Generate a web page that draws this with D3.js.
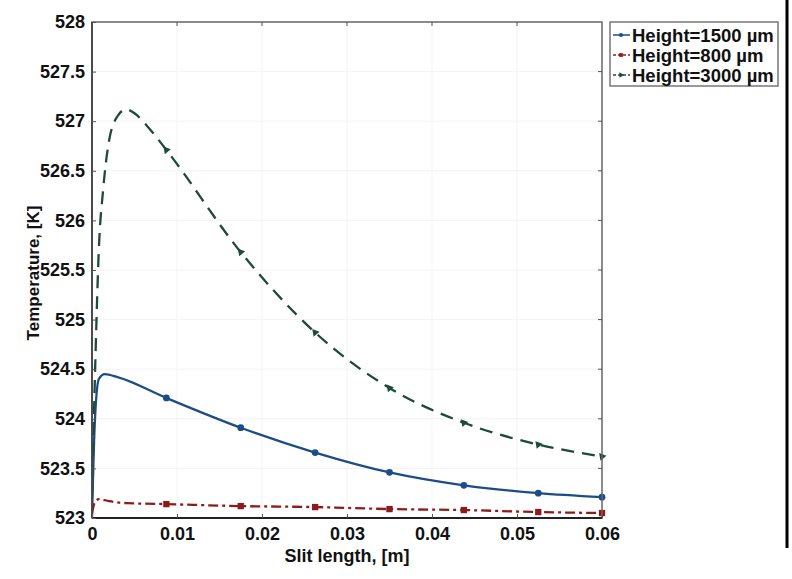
<!DOCTYPE html>
<html>
<head>
<meta charset="utf-8">
<script src="https://cdn.jsdelivr.net/npm/d3@7"></script>
<style>
  body { margin: 0; background: #fff; }
  svg { display: block; font-family: Arial, "Liberation Sans", sans-serif; }
</style>
</head>
<body>
<svg width="792" height="579"></svg>
<script>
// values
const xTicks = [0, 0.01, 0.02, 0.03, 0.04, 0.05, 0.06]
const yTicks = [523, 523.5, 524, 524.5, 525, 525.5, 526, 526.5, 527, 527.5, 528]
const markerX = [0.00875, 0.0175, 0.02625, 0.035, 0.04375, 0.0525, 0.06]

const blueX = [0, 0.0003, 0.0008, 0.0015, 0.003, 0.00875, 0.0175, 0.02625, 0.035, 0.04375, 0.0525, 0.06]
const blueY = [523.0, 523.9, 524.4, 524.45, 524.42, 524.21, 523.91, 523.66, 523.46, 523.33, 523.25, 523.21]

const redX = [0, 0.0003, 0.0008, 0.002, 0.004, 0.00875, 0.0175, 0.02625, 0.035, 0.04375, 0.0525, 0.06]
const redY = [523.05, 523.15, 523.19, 523.17, 523.15, 523.14, 523.12, 523.11, 523.09, 523.08, 523.06, 523.05]

const greenX = [0, 0.0004, 0.0008, 0.0013, 0.002, 0.003, 0.004, 0.005, 0.0065, 0.00875, 0.0175, 0.02625, 0.035, 0.04375, 0.0525, 0.06]
const greenY = [523.2, 524.6, 525.7, 526.3, 526.8, 527.05, 527.12, 527.08, 526.95, 526.71, 525.68, 524.87, 524.31, 523.96, 523.74, 523.62]

const seriesNames = ["Height=1500 \u00b5m", "Height=800 \u00b5m", "Height=3000 \u00b5m"]

const PLOT_LEFT = 92, PLOT_TOP = 22, PLOT_RIGHT = 602, PLOT_BOTTOM = 518

const svg = d3.select("svg")
const x = d3.scaleLinear().domain([0, 0.06]).range([PLOT_LEFT, PLOT_RIGHT])
const y = d3.scaleLinear().domain([523, 528]).range([PLOT_BOTTOM, PLOT_TOP])

// faint grid
svg.append("g").selectAll("line").data(xTicks.slice(1, -1)).join("line")
    .attr("x1", d => x(d)).attr("x2", d => x(d))
    .attr("y1", PLOT_TOP).attr("y2", PLOT_BOTTOM)
    .attr("stroke", "#f3f3f3").attr("stroke-width", 1)
svg.append("g").selectAll("line").data(yTicks.slice(1, -1)).join("line")
    .attr("y1", d => y(d)).attr("y2", d => y(d))
    .attr("x1", PLOT_LEFT).attr("x2", PLOT_RIGHT)
    .attr("stroke", "#f3f3f3").attr("stroke-width", 1)

const series = [
    { xs: blueX, ys: blueY, color: "#1c4d86", dash: null, marker: "circle" },
    { xs: redX, ys: redY, color: "#8e1b1b", dash: "10,4,3,4", marker: "square" },
    { xs: greenX, ys: greenY, color: "#1d4a3c", dash: "13,8", marker: "triangle" }
]

const line = d3.line()
    .x(d => x(d[0]))
    .y(d => y(d[1]))
    .curve(d3.curveMonotoneX)

function symbolType(kind) {
    if (kind === "circle") return d3.symbolCircle
    if (kind === "square") return d3.symbolSquare
    return d3.symbolTriangle
}
const markerSize = { circle: 36, square: 40, triangle: 26 }

const plot = svg.append("g")
plot.append("clipPath").attr("id", "clip")
    .append("rect").attr("x", PLOT_LEFT).attr("y", PLOT_TOP - 2)
    .attr("width", PLOT_RIGHT - PLOT_LEFT + 2).attr("height", PLOT_BOTTOM - PLOT_TOP + 2)

series.forEach(s => {
    const pts = s.xs.map((v, i) => [v, s.ys[i]])
    plot.append("path")
        .datum(pts)
        .attr("d", line)
        .attr("fill", "none")
        .attr("stroke", s.color)
        .attr("stroke-width", 2.3)
        .attr("stroke-dasharray", s.dash)
        .attr("clip-path", "url(#clip)")
    const marks = pts.filter(p => markerX.includes(p[0]))
    plot.append("g").selectAll("path").data(marks).join("path")
        .attr("d", d3.symbol().type(symbolType(s.marker)).size(markerSize[s.marker]))
        .attr("transform", d => "translate(" + x(d[0]) + "," + y(d[1]) + ")" + (s.marker === "triangle" ? " rotate(200)" : ""))
        .attr("fill", s.color)
})

// frame
svg.append("rect")
    .attr("x", PLOT_LEFT).attr("y", PLOT_TOP)
    .attr("width", PLOT_RIGHT - PLOT_LEFT).attr("height", PLOT_BOTTOM - PLOT_TOP)
    .attr("fill", "none").attr("stroke", "#666").attr("stroke-width", 1.5)
svg.append("line")
    .attr("x1", PLOT_LEFT).attr("x2", PLOT_RIGHT).attr("y1", PLOT_BOTTOM).attr("y2", PLOT_BOTTOM)
    .attr("stroke", "#222").attr("stroke-width", 2)
svg.append("line")
    .attr("x1", PLOT_LEFT).attr("x2", PLOT_LEFT).attr("y1", PLOT_TOP).attr("y2", PLOT_BOTTOM)
    .attr("stroke", "#444").attr("stroke-width", 1.8)

// axes
const xAxis = d3.axisBottom(x).tickValues(xTicks).tickSize(-4).tickPadding(9)
    .tickFormat(d => d === 0 ? "0" : d3.format(".2f")(d))
const yAxis = d3.axisLeft(y).tickValues(yTicks).tickSize(-4).tickPadding(7)
    .tickFormat(d => d3.format("")(d))

const gx = svg.append("g").attr("transform", "translate(0," + PLOT_BOTTOM + ")").call(xAxis)
const gy = svg.append("g").attr("transform", "translate(" + PLOT_LEFT + ",0)").call(yAxis)
;[gx, gy].forEach(g => {
    g.select(".domain").remove()
    g.selectAll(".tick line").attr("stroke", "#555")
    g.selectAll(".tick text")
        .attr("fill", "#111")
        .style("font-size", "18px")
        .style("font-weight", "bold")
        .style("font-family", "Arial, 'Liberation Sans', sans-serif")
})

// top/right inner ticks
svg.append("g").selectAll("line").data(xTicks.slice(1, -1)).join("line")
    .attr("x1", d => x(d)).attr("x2", d => x(d)).attr("y1", PLOT_TOP).attr("y2", PLOT_TOP + 4)
    .attr("stroke", "#555")
svg.append("g").selectAll("line").data(yTicks.slice(1, -1)).join("line")
    .attr("y1", d => y(d)).attr("y2", d => y(d)).attr("x1", PLOT_RIGHT).attr("x2", PLOT_RIGHT - 4)
    .attr("stroke", "#555")

// axis titles
svg.append("text")
    .attr("x", (PLOT_LEFT + PLOT_RIGHT) / 2).attr("y", 562)
    .attr("text-anchor", "middle")
    .style("font-size", "18px").style("font-weight", "bold").attr("fill", "#111")
    .text("Slit length, [m]")
svg.append("text")
    .attr("transform", "translate(39," + ((PLOT_TOP + PLOT_BOTTOM) / 2 + 3) + ") rotate(-90)")
    .attr("text-anchor", "middle")
    .style("font-size", "17px").style("font-weight", "bold").attr("fill", "#111")
    .text("Temperature, [K]")

// legend
const legend = svg.append("g")
legend.append("rect")
    .attr("x", 610).attr("y", 22).attr("width", 168).attr("height", 64)
    .attr("fill", "#fff").attr("stroke", "#777").attr("stroke-width", 1.5)
series.forEach((s, i) => {
    const ly = 35 + i * 20
    legend.append("line")
        .attr("x1", 613).attr("x2", 630).attr("y1", ly).attr("y2", ly)
        .attr("stroke", s.color).attr("stroke-width", 1.5)
        .attr("stroke-dasharray", s.dash ? "3,2" : null)
    legend.append("path")
        .attr("d", d3.symbol().type(symbolType(s.marker)).size(14))
        .attr("transform", "translate(621," + ly + ")" + (s.marker === "triangle" ? " rotate(90)" : ""))
        .attr("fill", s.color)
    legend.append("text")
        .attr("x", 632).attr("y", ly + 7)
        .style("font-size", "18.5px").style("font-weight", "bold").attr("fill", "#111")
        .text(seriesNames[i])
})

// black bar at the right edge
svg.append("line")
    .attr("x1", 787).attr("x2", 787).attr("y1", 0).attr("y2", 548)
    .attr("stroke", "#000").attr("stroke-width", 3)
</script>
</body>
</html>
